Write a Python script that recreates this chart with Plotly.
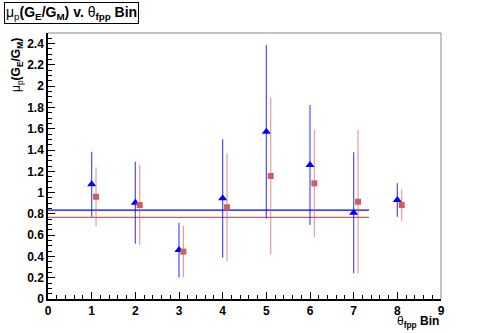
import plotly.graph_objects as go

# bin number (blue) and offset bin (red)
bins = [1, 2, 3, 4, 5, 6, 7, 8]
bins_red = [1.1, 2.1, 3.1, 4.1, 5.1, 6.1, 7.1, 8.1]

blue_vals = [1.078, 0.905, 0.460, 0.946, 1.572, 1.259, 0.811, 0.930]
blue_errs = [0.306, 0.385, 0.257, 0.555, 0.815, 0.564, 0.568, 0.157]

red_vals = [0.961, 0.883, 0.445, 0.862, 1.156, 1.087, 0.914, 0.883]
red_errs = [0.277, 0.376, 0.241, 0.507, 0.736, 0.501, 0.674, 0.148]

# constant fits
fit_x = [0, 7.35]
blue_fit = 0.836
red_fit = 0.768

BLUE = "#0000ff"
RED = "rgb(207,94,97)"
FONT = "Liberation Sans, Arial, Helvetica, sans-serif"

fig = go.Figure()

fig.add_trace(go.Scatter(x=fit_x, y=[blue_fit, blue_fit], mode="lines",
                         line=dict(color=BLUE, width=1.2), hoverinfo="skip"))
fig.add_trace(go.Scatter(x=fit_x, y=[red_fit, red_fit], mode="lines",
                         line=dict(color=RED, width=1.2), hoverinfo="skip"))

fig.add_trace(go.Scatter(
    x=bins, y=blue_vals, mode="markers",
    marker=dict(symbol="triangle-up", size=8, color=BLUE),
    error_y=dict(type="data", array=blue_errs, color="rgba(0,0,255,0.7)", thickness=1.2, width=0),
))
fig.add_trace(go.Scatter(
    x=bins_red, y=red_vals, mode="markers",
    marker=dict(symbol="square", size=6, color=RED),
    error_y=dict(type="data", array=red_errs, color="rgba(207,94,97,0.6)", thickness=1.2, width=0),
))

L, R, T, B = 48, 50, 33, 34
W, H = 491, 333
pw, ph = W - L - R, H - T - B

fig.update_layout(
    width=W, height=H,
    margin=dict(l=L, r=R, t=T, b=B),
    paper_bgcolor="white", plot_bgcolor="white",
    showlegend=False,
    font=dict(family=FONT, size=12, color="black"),
)

fig.update_xaxes(
    range=[0, 9], dtick=1, tick0=0, automargin=False,
    showgrid=False, zeroline=False,
    showline=True, linecolor="black", linewidth=1.5,
    ticks="inside", ticklen=7, tickcolor="black",
    minor=dict(dtick=0.2, ticks="inside", ticklen=4, tickcolor="black", showgrid=False),
    tickfont=dict(family=FONT, size=12, weight="bold"),
)
fig.update_yaxes(
    range=[0, 2.5], dtick=0.2, tick0=0, automargin=False,
    showgrid=False, zeroline=False,
    showline=True, linecolor="black", linewidth=1.5,
    ticks="inside", ticklen=7, tickcolor="black",
    minor=dict(dtick=0.05, ticks="inside", ticklen=4, tickcolor="black", showgrid=False),
    tickfont=dict(family=FONT, size=12, weight="bold"),
)

# gray frame on top and right
fig.add_shape(type="line", xref="paper", yref="paper", x0=0, x1=1, y0=1, y1=1,
              line=dict(color="#888888", width=1))
fig.add_shape(type="line", xref="paper", yref="paper", x0=1, x1=1, y0=0, y1=1,
              line=dict(color="#888888", width=1))

# title box
fig.add_annotation(
    xref="paper", yref="paper",
    x=(4 - L) / pw, y=1 + (T - 2) / ph, xanchor="left", yanchor="top",
    text="μ<sub>p</sub><b>(G<sub>E</sub>/G<sub>M</sub>) v. </b>θ<sub><b>fpp</b></sub><b> Bin</b>",
    showarrow=False, font=dict(family=FONT, size=14),
    bordercolor="black", borderwidth=1, borderpad=1, bgcolor="white",
)

# axis titles
fig.add_annotation(
    xref="paper", yref="paper",
    x=(17 - L) / pw, y=1 - (36 - T) / ph, xanchor="center", yanchor="top",
    text="μ<sub>p</sub><b>(G<sub>E</sub>/G<sub>M</sub>)</b>", textangle=-90,
    showarrow=False, font=dict(family=FONT, size=12),
)
fig.add_annotation(
    xref="paper", yref="paper",
    x=1, y=-(312 - T - ph) / ph, xanchor="right", yanchor="top",
    text="θ<sub><b>fpp</b></sub><b> Bin</b>",
    showarrow=False, font=dict(family=FONT, size=12),
)

# page body has a default 8px margin; drop it so the figure sits at the corner
fig.write_html("out.html", config={"displayModeBar": False},
               post_script="document.body.style.margin='0px';")
